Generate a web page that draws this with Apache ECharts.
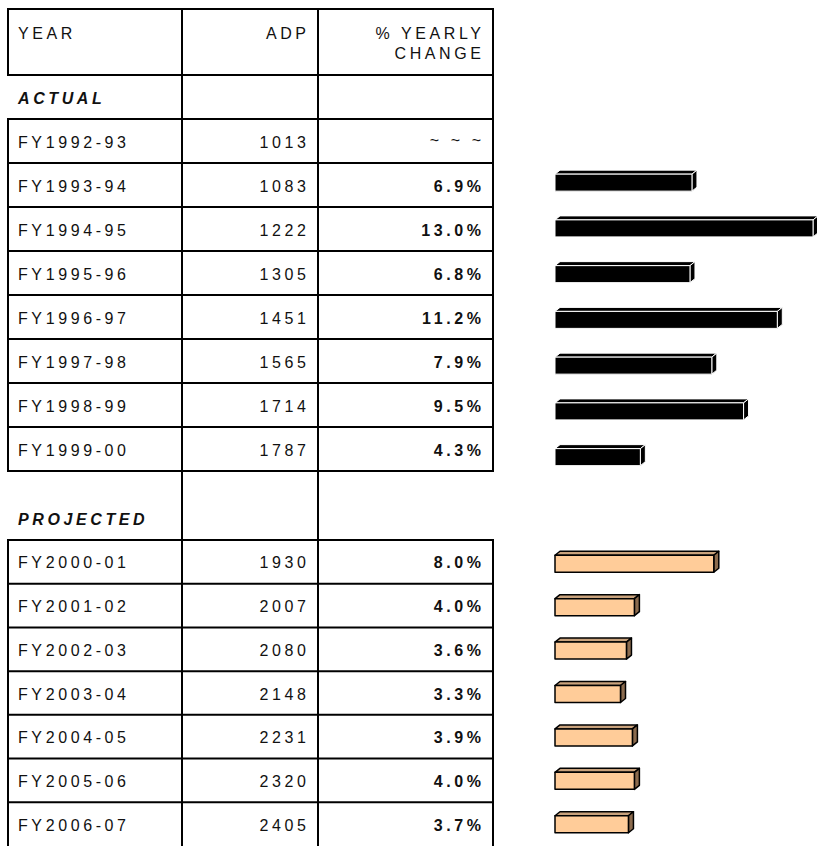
<!DOCTYPE html>
<html>
<head>
<meta charset="utf-8">
<script src="https://cdn.jsdelivr.net/npm/echarts@6.0.0/dist/echarts.min.js"></script>
<style>
  html, body { margin: 0; padding: 0; background: #fff; }
  #chart { width: 817px; height: 846px; }
  /* the table text is set with wide tracking */
  #chart text { letter-spacing: 3.6px; }
</style>
</head>
<body>
<div id="chart"></div>
<script>
  // actual years
  const actualYears = ['FY1992-93', 'FY1993-94', 'FY1994-95', 'FY1995-96', 'FY1996-97', 'FY1997-98', 'FY1998-99', 'FY1999-00']
  const actualAdp = [1013, 1083, 1222, 1305, 1451, 1565, 1714, 1787]
  const actualChange = ['-', 6.9, 13.0, 6.8, 11.2, 7.9, 9.5, 4.3]

  // projected years
  const projectedYears = ['FY2000-01', 'FY2001-02', 'FY2002-03', 'FY2003-04', 'FY2004-05', 'FY2005-06', 'FY2006-07']
  const projectedAdp = [1930, 2007, 2080, 2148, 2231, 2320, 2405]
  const projectedChange = [8.0, 4.0, 3.6, 3.3, 3.9, 4.0, 3.7]

  const headers = ['YEAR', 'ADP', '% YEARLY', 'CHANGE']
  const sections = ['ACTUAL', 'PROJECTED']

  const FONT = 'Liberation Sans, Arial, Helvetica, sans-serif'
  const colX = [8, 182, 318, 493] // table column borders
  const lineColor = '#000'
  const textColor = '#111'
  const track = 3.6 // letter spacing added after the last glyph too

  const chart = echarts.init(document.getElementById('chart'), null, { renderer: 'svg' })

  function vline(x, y1, y2) {
    return { type: 'line', shape: { x1: x, y1: y1, x2: x, y2: y2 }, style: { stroke: lineColor, lineWidth: 2 }, silent: true }
  }
  function hline(y) {
    return { type: 'line', shape: { x1: colX[0] - 1, y1: y, x2: colX[3] + 1, y2: y }, style: { stroke: lineColor, lineWidth: 2 }, silent: true }
  }
  function label(text, x, y, align, weight, style) {
    return {
      type: 'text',
      x: x,
      y: y,
      silent: true,
      style: {
        text: text,
        fill: textColor,
        font: (style || 'normal') + ' ' + (weight || 'normal') + ' 16px ' + FONT,
        textAlign: align,
        textVerticalAlign: 'middle'
      }
    }
  }

  function tableRow(years, adp, change) {
    return function (params, api) {
      const i = params.dataIndex
      const c = api.coord([0, i])
      const band = api.size([0, 1])[1]
      const y0 = c[1] - band / 2
      const y1 = c[1] + band / 2
      const yc = c[1] + 1
      const v = change[i]
      return {
        type: 'group',
        children: [
          hline(y0),
          vline(colX[0], y0, y1), vline(colX[1], y0, y1), vline(colX[2], y0, y1), vline(colX[3], y0, y1),
          label(years[i], 18, yc, 'left'),
          label(String(adp[i]), 306 + track, yc, 'right'),
          v === '-' ? label('~ ~ ~', 481 + track, yc - 2, 'right', 'normal')
            : label(v.toFixed(1) + '%', 481 + track, yc, 'right', 'bold')
        ]
      }
    }
  }

  function bar3d(front, top, side, stroke, lw) {
    return function (params, api) {
      const val = api.value(0)
      if (isNaN(val)) return
      const s = api.coord([0, api.value(1)])
      const e = api.coord([val, api.value(1)])
      const h = 17
      const dx = 5
      const dy = 4
      const x1 = s[0]
      const x2 = e[0]
      const y = s[1] - (h + dy) / 2 + dy
      const st = { stroke: stroke, lineWidth: lw, lineJoin: 'round' }
      return {
        type: 'group',
        children: [
          { type: 'polygon', shape: { points: [[x1, y], [x1 + dx, y - dy], [x2 + dx, y - dy], [x2, y]] }, style: Object.assign({ fill: top }, st) },
          { type: 'polygon', shape: { points: [[x2, y], [x2 + dx, y - dy], [x2 + dx, y + h - dy], [x2, y + h]] }, style: Object.assign({ fill: side }, st) },
          { type: 'rect', shape: { x: x1, y: y, width: x2 - x1, height: h }, style: Object.assign({ fill: front }, st) }
        ]
      }
    }
  }

  const pxPerUnit = 13.2

  const option = {
    animation: false,
    backgroundColor: '#fff',
    grid: [
      { left: 8, width: 485, top: 119, height: 352 },
      { left: 555, right: 0, top: 112, height: 366 },
      { left: 8, width: 485, top: 540, height: 308 },
      { left: 555, right: 0, top: 540, height: 304 }
    ],
    xAxis: [
      { gridIndex: 0, type: 'value', min: 0, max: 1, show: false },
      { gridIndex: 1, type: 'value', min: 0, max: pxPerUnit, show: false },
      { gridIndex: 2, type: 'value', min: 0, max: 1, show: false },
      { gridIndex: 3, type: 'value', min: 0, max: pxPerUnit, show: false }
    ],
    yAxis: [
      { gridIndex: 0, type: 'category', data: actualYears, inverse: true, show: false },
      { gridIndex: 1, type: 'category', data: actualYears, inverse: true, show: false },
      { gridIndex: 2, type: 'category', data: projectedYears, inverse: true, show: false },
      { gridIndex: 3, type: 'category', data: projectedYears, inverse: true, show: false }
    ],
    graphic: [
      // header row
      hline(9), hline(75),
      vline(colX[0], 9, 75), vline(colX[1], 9, 75), vline(colX[2], 9, 75), vline(colX[3], 9, 75),
      label(headers[0], 18, 33, 'left'),
      label(headers[1], 306 + track, 33, 'right'),
      label(headers[2], 481 + track, 33, 'right'),
      label(headers[3], 481 + track, 53, 'right'),
      // ACTUAL section row
      vline(colX[1], 75, 119), vline(colX[2], 75, 119), vline(colX[3], 75, 119),
      label(sections[0], 18, 98, 'left', 'bold', 'italic'),
      // bottom of actual block, gap + PROJECTED section row
      hline(471),
      vline(colX[1], 471, 540), vline(colX[2], 471, 540),
      label(sections[1], 18, 519, 'left', 'bold', 'italic')
    ],
    series: [
      {
        type: 'custom',
        xAxisIndex: 0,
        yAxisIndex: 0,
        renderItem: tableRow(actualYears, actualAdp, actualChange),
        data: actualYears.map((y, i) => [0, i])
      },
      {
        type: 'custom',
        xAxisIndex: 1,
        yAxisIndex: 1,
        renderItem: bar3d('#000', '#000', '#000', '#fff', 1),
        data: actualChange.map((v, i) => [v, i])
      },
      {
        type: 'custom',
        xAxisIndex: 2,
        yAxisIndex: 2,
        renderItem: tableRow(projectedYears, projectedAdp, projectedChange),
        data: projectedYears.map((y, i) => [0, i])
      },
      {
        type: 'custom',
        xAxisIndex: 3,
        yAxisIndex: 3,
        renderItem: bar3d('#ffcc99', '#c9a27c', '#8b6b4e', '#000', 1.5),
        data: projectedChange.map((v, i) => [v, i])
      }
    ]
  }

  chart.setOption(option)
</script>
</body>
</html>
